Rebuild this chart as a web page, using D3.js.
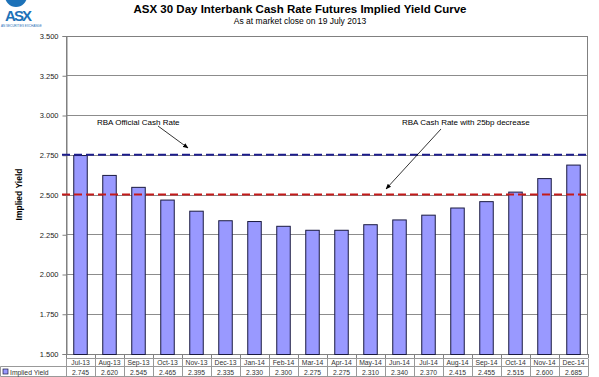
<!DOCTYPE html>
<html><head><meta charset="utf-8">
<script src="https://cdn.jsdelivr.net/npm/d3@7"></script>
<style>body{margin:0;background:#fff}svg{display:block;font-family:Arial,"Liberation Sans",sans-serif}</style>
</head><body><svg id="c" width="599" height="377"></svg>
<script>
const categories = ["Jul-13","Aug-13","Sep-13","Oct-13","Nov-13","Dec-13","Jan-14","Feb-14","Mar-14","Apr-14","May-14","Jun-14","Jul-14","Aug-14","Sep-14","Oct-14","Nov-14","Dec-14"];
const impliedYield = [2.745,2.620,2.545,2.465,2.395,2.335,2.330,2.300,2.275,2.275,2.310,2.340,2.370,2.415,2.455,2.515,2.600,2.685];
const yTicks = [1.5,1.75,2.0,2.25,2.5,2.75,3.0,3.25,3.5];
const officialRate = 2.75;
const decreaseRate = 2.5;

const svg = d3.select("#c");
const L=66, R=588, T=35.5, B=353.5;
const x = d3.scaleBand().domain(categories).range([L,R]);
const y = d3.scaleLinear().domain([1.5,3.5]).range([B,T]);

// logo
svg.append("circle").attr("cx",16).attr("cy",-4).attr("r",11).attr("fill","#1d72b8");
svg.append("text").attr("x",5).attr("y",21).attr("font-size",15).attr("fill","#1d72b8").attr("font-weight","bold").attr("textLength",27).text("ASX");
svg.append("text").attr("x",1).attr("y",27).attr("font-size",3).attr("fill","#1d72b8").text("AN SECURITIES EXCHANGE");

// title
svg.append("text").attr("x",300).attr("y",13).attr("text-anchor","middle").attr("font-size",11.5).attr("font-weight","bold").text("ASX 30 Day Interbank Cash Rate Futures Implied Yield Curve");
svg.append("text").attr("x",300).attr("y",24).attr("text-anchor","middle").attr("font-size",8.5).text("As at market close on 19 July 2013");

// gridlines
svg.append("g").selectAll("line").data(yTicks.slice(1,-1)).join("line")
  .attr("x1",L).attr("x2",R).attr("y1",d=>Math.round(y(d))+0.5).attr("y2",d=>Math.round(y(d))+0.5)
  .attr("stroke","#8c8c8c").attr("stroke-width",1);

// plot border
svg.append("rect").attr("x",L+0.5).attr("y",Math.round(T)+0.5).attr("width",R-L-1).attr("height",Math.round(B)-Math.round(T))
  .attr("fill","none").attr("stroke","#808080");

// y axis
const ya = svg.append("g").attr("transform",`translate(${L+0.5},0.5)`)
  .call(d3.axisLeft(y).tickValues(yTicks).tickFormat(d3.format(".3f")).tickSize(4).tickPadding(4));
ya.select(".domain").attr("stroke","#808080");
ya.selectAll(".tick line").attr("stroke","#808080");
ya.selectAll("text").attr("font-size",7.5).attr("font-family","Arial,'Liberation Sans',sans-serif").attr("fill","#222");

// y label
svg.append("text").attr("transform",`translate(22,${(T+B)/2}) rotate(-90)`).attr("text-anchor","middle")
  .attr("font-size",8.5).attr("font-weight","bold").text("Implied Yield");

// bars
const bw = 13.5;
svg.append("g").selectAll("rect").data(impliedYield).join("rect")
  .attr("x",(d,i)=>x(categories[i])+x.bandwidth()/2-bw/2)
  .attr("y",d=>y(d)).attr("width",bw).attr("height",d=>Math.round(B)-y(d)+0.5)
  .attr("fill","#9999ff").attr("stroke","#1a1a40").attr("stroke-width",1);

// reference lines
svg.append("line").attr("x1",L-4).attr("x2",R).attr("y1",y(officialRate)).attr("y2",y(officialRate))
  .attr("stroke","#1c1c8a").attr("stroke-width",2).attr("stroke-dasharray","8,4");
svg.append("line").attr("x1",L-4).attr("x2",R).attr("y1",y(decreaseRate)).attr("y2",y(decreaseRate))
  .attr("stroke","#c41a1a").attr("stroke-width",2).attr("stroke-dasharray","8,4");

// annotations
const defs = svg.append("defs");
defs.append("marker").attr("id","ah").attr("viewBox","0 0 10 10").attr("refX",9).attr("refY",5)
  .attr("markerWidth",7).attr("markerHeight",7).attr("orient","auto")
  .append("path").attr("d","M0,1 L10,5 L0,9 z").attr("fill","#000");
function note(tx,ty,w,label,x1,y1,x2,y2){
  svg.append("rect").attr("x",tx-4).attr("y",ty-9).attr("width",w).attr("height",13).attr("fill","#fff");
  svg.append("text").attr("x",tx).attr("y",ty).attr("font-size",8).text(label);
  svg.append("line").attr("x1",x1).attr("y1",y1).attr("x2",x2).attr("y2",y2).attr("stroke","#000").attr("stroke-width",0.8).attr("marker-end","url(#ah)");
}
note(97,125,102,"RBA Official Cash Rate",158,126,188,148);
note(402,125,134,"RBA Cash Rate with 25bp decrease",441,129,386,189);

// x ticks
svg.append("g").selectAll("line").data(d3.range(categories.length+1)).join("line")
  .attr("x1",i=>Math.round(L+i*x.bandwidth())+0.5).attr("x2",i=>Math.round(L+i*x.bandwidth())+0.5)
  .attr("y1",Math.round(B)).attr("y2",Math.round(B)+4).attr("stroke","#808080");

// data table
const r1=358.5, r2=366.5, r3=376.5;
const tg = svg.append("g");
tg.append("line").attr("x1",L).attr("x2",R).attr("y1",r1).attr("y2",r1).attr("stroke","#999");
tg.append("line").attr("x1",0.5).attr("x2",R).attr("y1",r2).attr("y2",r2).attr("stroke","#999");
tg.append("line").attr("x1",0.5).attr("x2",R).attr("y1",r3).attr("y2",r3).attr("stroke","#999");
tg.append("line").attr("x1",0.5).attr("x2",0.5).attr("y1",r2).attr("y2",r3).attr("stroke","#999");
tg.selectAll(".v").data(d3.range(categories.length+1)).join("line")
  .attr("x1",i=>Math.round(L+i*x.bandwidth())+0.5).attr("x2",i=>Math.round(L+i*x.bandwidth())+0.5)
  .attr("y1",r1).attr("y2",r3).attr("stroke","#999");
tg.selectAll(".c").data(categories).join("text")
  .attr("x",d=>x(d)+x.bandwidth()/2).attr("y",r2-1.5).attr("text-anchor","middle").attr("font-size",6.8).attr("fill","#333").text(d=>d);
tg.selectAll(".n").data(impliedYield).join("text")
  .attr("x",(d,i)=>x(categories[i])+x.bandwidth()/2).attr("y",r3-2).attr("text-anchor","middle").attr("font-size",6.8).attr("fill","#333").text(d=>d3.format(".3f")(d));
tg.append("rect").attr("x",3).attr("y",369).attr("width",5).attr("height",5).attr("fill","#9999ff").attr("stroke","#1a1a40").attr("stroke-width",0.7);
tg.append("text").attr("x",10).attr("y",r3-2).attr("font-size",6.8).attr("fill","#333").text("Implied Yield");
</script></body></html>
